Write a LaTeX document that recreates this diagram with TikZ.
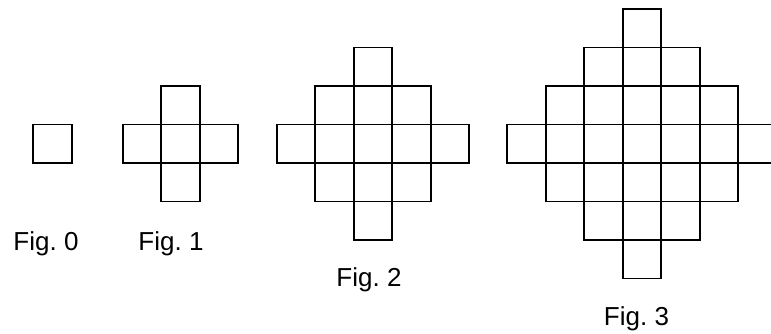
\documentclass[tikz,border=0pt]{standalone}
\usepackage{fontspec}
\setmainfont{Liberation Sans}
\begin{document}
\begin{tikzpicture}[x=0.75pt,y=-0.75pt,line width=1.4pt,
  figlabel/.style={anchor=base,inner sep=0pt,font=\fontsize{19.5}{23}\selectfont}]
\useasboundingbox (0,0) rectangle (771,334);
\clip (0,0) rectangle (771,334);
\def\sq{38.5}
% figure n: squares with |i|+|j| <= n around (cx,143.7)
\foreach \n/\cx in {0/52.5,1/180.5,2/373,3/642}{
  \pgfmathtruncatemacro\w{2*\n}
  \foreach \a in {0,...,\w}{
    \pgfmathtruncatemacro\k{\n-abs(\a-\n)}
    \pgfmathtruncatemacro\h{2*\k}
    \foreach \b in {0,...,\h}
      \draw ({\cx+(\a-\n-0.5)*\sq},{143.7+(\b-\k-0.5)*\sq}) rectangle ++(\sq,\sq);
  }
}
\node[figlabel] (fig0) at (46,250.5) {Fig.\ 0};
\node[figlabel] (fig1) at (171,250.5) {Fig.\ 1};
\node[figlabel] (fig2) at (369,287) {Fig.\ 2};
\node[figlabel] (fig3) at (636.5,326) {Fig.\ 3};
\end{tikzpicture}
\end{document}
